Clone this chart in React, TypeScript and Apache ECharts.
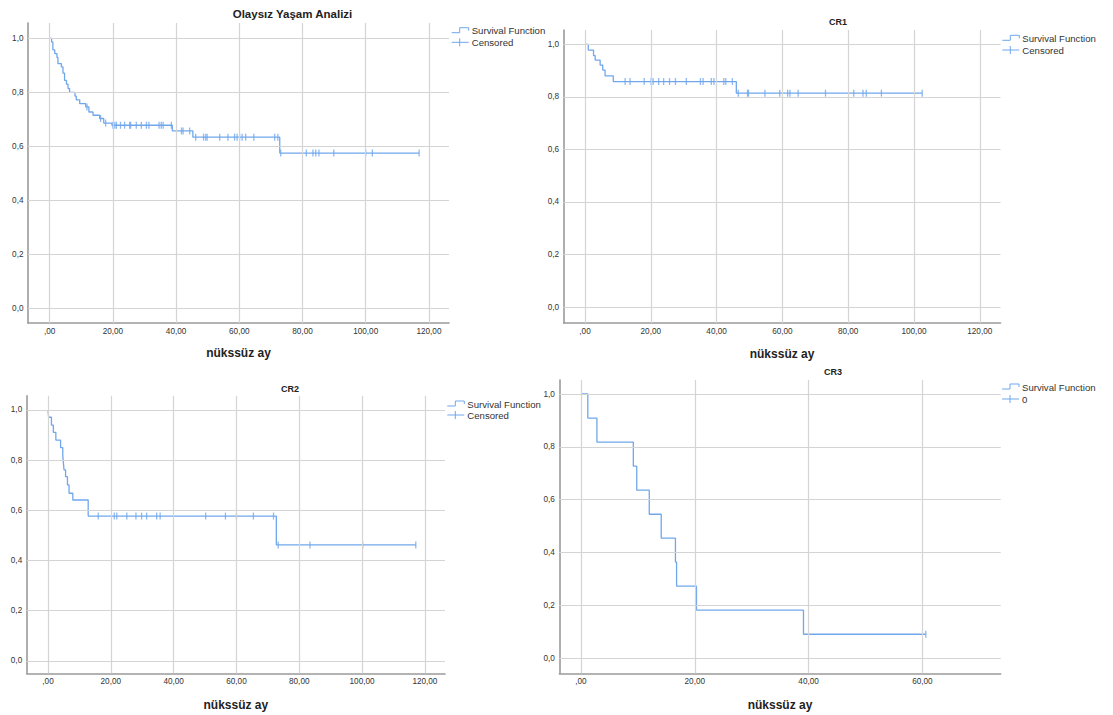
import { useEffect, useRef } from "react";
import * as echarts from "echarts";

// ---------- data ----------
const olayTimes = [0, 0.6, 1.0, 1.6, 2.3, 2.6, 3.7, 4.2, 4.7, 5.3, 5.8, 6.3, 8.0, 8.4, 9.5, 11.4, 12.4, 13.7, 15.8, 17.1, 19.7, 38.8, 45.3, 72.8, 116.9];
const olaySurv = [1, 0.986, 0.957, 0.943, 0.929, 0.906, 0.894, 0.871, 0.844, 0.83, 0.814, 0.8, 0.786, 0.772, 0.758, 0.746, 0.727, 0.715, 0.703, 0.686, 0.678, 0.657, 0.634, 0.575, 0.575];
const olayCensored = [11.8, 16.1, 17.7, 20.0, 20.6, 21.1, 22.4, 23.7, 25.3, 25.6, 27.4, 29.0, 30.6, 31.4, 34.6, 35.3, 35.9, 38.5, 41.7, 42.2, 44.3, 46.2, 48.7, 49.4, 49.8, 53.8, 56.4, 58.5, 59.3, 60.1, 60.9, 62.0, 64.6, 71.2, 72.2, 73.1, 81.2, 83.3, 84.2, 85.2, 89.9, 100.0, 102.1, 116.9];

const cr1Times = [0, 1.0, 2.6, 3.1, 4.6, 5.4, 6.1, 8.6, 46.0, 102.5];
const cr1Surv = [1, 0.978, 0.957, 0.94, 0.921, 0.902, 0.88, 0.858, 0.814, 0.814];
const cr1Censored = [12.2, 13.7, 18.0, 20.1, 20.7, 22.4, 23.9, 25.7, 27.5, 30.8, 35.1, 35.9, 38.4, 39.2, 42.2, 42.8, 44.8, 46.6, 49.4, 49.7, 54.7, 59.2, 61.6, 62.3, 64.8, 73.1, 81.7, 84.5, 85.5, 90.1, 102.5];

const cr2Times = [0, 0.2, 1.1, 1.7, 2.5, 4.0, 4.7, 4.9, 5.1, 5.6, 6.2, 6.7, 7.9, 12.8, 72.7, 117.1];
const cr2Surv = [1, 0.971, 0.94, 0.911, 0.88, 0.85, 0.82, 0.79, 0.761, 0.734, 0.701, 0.668, 0.641, 0.577, 0.462, 0.462];
const cr2Censored = [16.0, 21.1, 21.9, 25.1, 28.0, 29.8, 31.4, 34.6, 35.7, 50.2, 56.5, 60.0, 65.4, 71.8, 73.3, 83.4, 100.2, 117.1];

const cr3Times = [0, 1.2, 2.8, 9.2, 9.8, 12.0, 14.1, 16.6, 16.8, 20.3, 39.1, 60.6];
const cr3Surv = [1, 0.909, 0.818, 0.727, 0.636, 0.545, 0.455, 0.364, 0.273, 0.182, 0.091, 0.091];
const cr3Censored = [60.6];

const xTicksLong = [0, 20, 40, 60, 80, 100, 120];
const xTicksShort = [0, 20, 40, 60];
const yTicks = [0, 0.2, 0.4, 0.6, 0.8, 1.0];

const titles = ["Olaysız Yaşam Analizi", "CR1", "CR2", "CR3"];
const xAxisTitle = "nükssüz ay";
const legendSurvival = "Survival Function";
const legendCensored = ["Censored", "Censored", "Censored", "0"];

// ---------- styling / layout ----------
const LINE = "#70a7ec";
const GRIDC = "#d4d4d4";
const AXISC = "#9a9a9a";
const FONT = "'Liberation Sans', Arial, sans-serif";

const panels = [
  { times: olayTimes, surv: olaySurv, cens: olayCensored, xTicks: xTicksLong,
    left: 28, top: 23, right: 449, bottom: 323, xMin: -6.87, xMax: 126.36, yMin: -0.0544, yMax: 1.0567,
    nameGap: 23.5, title: [292.5, 14, 11.5], legend: [451.7, 30.7, 42.3] },
  { times: cr1Times, surv: cr1Surv, cens: cr1Censored, xTicks: xTicksLong,
    left: 563.6, top: 30, right: 1000.5, bottom: 323, xMin: -6.5, xMax: 126.3, yMin: -0.0609, yMax: 1.0544,
    nameGap: 25, title: [838, 22, 9], legend: [1002.3, 38.3, 50] },
  { times: cr2Times, surv: cr2Surv, cens: cr2Censored, xTicks: xTicksLong,
    left: 26.7, top: 395.7, right: 445, bottom: 673.3, xMin: -6.78, xMax: 126.4, yMin: -0.05, yMax: 1.057,
    nameGap: 25.5, title: [290, 388.5, 9], legend: [447.3, 404, 415] },
  { times: cr3Times, surv: cr3Surv, cens: cr3Censored, xTicks: xTicksShort,
    left: 559.3, top: 380, right: 1000.7, bottom: 673.3, xMin: -3.81, xMax: 73.76, yMin: -0.0568, yMax: 1.053,
    nameGap: 25.5, title: [833, 371.5, 9], legend: [1002, 387, 399] },
];

function stepAt(times: number[], surv: number[], t: number) {
  let s = surv[0];
  for (let i = 0; i < times.length; i++) if (times[i] <= t) s = surv[i];
  return s;
}

function legendGraphics(x0: number, y1: number, y2: number, label2: string) {
  const fs = 9.6;
  return [
    { type: "polyline", shape: { points: [[x0, y1 + 2], [x0 + 8, y1 + 2], [x0 + 8, y1 - 3], [x0 + 17, y1 - 3], [x0 + 17, y1]] },
      style: { stroke: LINE, lineWidth: 1, fill: null } },
    { type: "text", x: x0 + 20, y: y1, style: { text: legendSurvival, fontSize: fs, fill: "#333", verticalAlign: "middle", fontFamily: FONT } },
    { type: "line", shape: { x1: x0, y1: y2, x2: x0 + 17, y2: y2 }, style: { stroke: LINE, lineWidth: 1 } },
    { type: "line", shape: { x1: x0 + 8, y1: y2 - 4, x2: x0 + 8, y2: y2 + 4 }, style: { stroke: LINE, lineWidth: 1 } },
    { type: "text", x: x0 + 20, y: y2, style: { text: label2, fontSize: fs, fill: "#333", verticalAlign: "middle", fontFamily: FONT } },
  ];
}

export default function App() {
  const ref = useRef<HTMLDivElement>(null);
  useEffect(() => {
    if (!ref.current) return;
    const chart = echarts.init(ref.current, undefined, { renderer: "svg" });
    const grid: any[] = [];
    const xAxis: any[] = [];
    const yAxis: any[] = [];
    const series: any[] = [];
    const graphic: any[] = [];
    panels.forEach((p, i) => {
      grid.push({ left: p.left, top: p.top, width: p.right - p.left, height: p.bottom - p.top, containLabel: false });
      xAxis.push({
        type: "value", gridIndex: i, min: p.xMin, max: p.xMax,
        name: xAxisTitle, nameLocation: "middle", nameGap: p.nameGap,
        nameTextStyle: { fontSize: 12, fontWeight: "bold", color: "#222", fontFamily: FONT },
        axisLine: { show: true, onZero: false, lineStyle: { color: AXISC, width: 1.6 } },
        axisTick: { show: false },
        splitLine: { show: false },
        axisLabel: {
          customValues: p.xTicks, margin: 4, fontSize: 8.2, color: "#333", fontFamily: FONT,
          formatter: (v: number) => (v === 0 ? ",00" : v.toFixed(2).replace(".", ",")),
        },
      });
      yAxis.push({
        type: "value", gridIndex: i, min: p.yMin, max: p.yMax,
        axisLine: { show: true, onZero: false, lineStyle: { color: AXISC, width: 1.6 } },
        axisTick: { show: false },
        splitLine: { show: false },
        axisLabel: {
          customValues: yTicks, margin: 4.5, fontSize: 8.2, color: "#333", fontFamily: FONT,
          formatter: (v: number) => v.toFixed(1).replace(".", ","),
        },
      });
      series.push({
        type: "line", xAxisIndex: i, yAxisIndex: i, data: [], z: 1, silent: true,
        markLine: {
          silent: true, symbol: ["none", "none"], label: { show: false },
          lineStyle: { color: GRIDC, width: 1.2, type: "solid" },
          emphasis: { disabled: true },
          data: [...p.xTicks.map((v) => ({ xAxis: v })), ...yTicks.map((v) => ({ yAxis: v }))],
        },
      });
      series.push({
        type: "line", xAxisIndex: i, yAxisIndex: i, step: "end", symbol: "none", z: 3, silent: true,
        lineStyle: { color: LINE, width: 1.3 },
        data: p.times.map((t, k) => [t, p.surv[k]]),
      });
      series.push({
        type: "scatter", xAxisIndex: i, yAxisIndex: i, symbol: "rect", symbolSize: [1.3, 7], z: 4, silent: true,
        itemStyle: { color: LINE },
        data: p.cens.map((t) => [t, stepAt(p.times, p.surv, t)]),
      });
      graphic.push({
        type: "text", x: p.title[0], y: p.title[1],
        style: { text: titles[i], fontSize: p.title[2], fontWeight: "bold", fill: "#222", align: "center", verticalAlign: "middle", fontFamily: FONT },
      });
      graphic.push(...legendGraphics(p.legend[0], p.legend[1], p.legend[2], legendCensored[i]));
    });
    chart.setOption({
      animation: false,
      backgroundColor: "#ffffff",
      textStyle: { fontFamily: FONT },
      grid, xAxis, yAxis, series, graphic,
    });
    return () => chart.dispose();
  }, []);
  return <div ref={ref} style={{ position: "fixed", left: 0, top: 0, width: 1113, height: 715, background: "#fff" }} />;
}
